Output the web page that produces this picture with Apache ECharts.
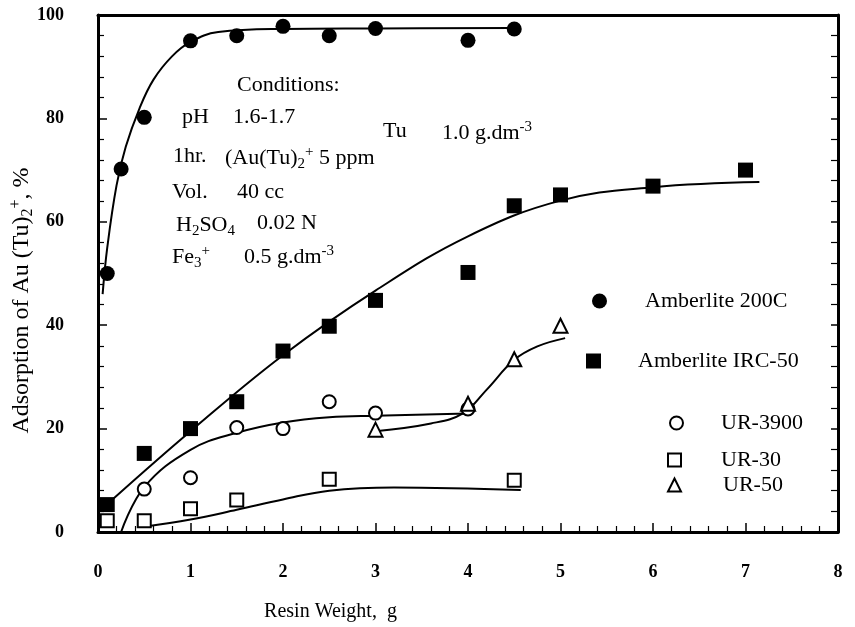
<!DOCTYPE html>
<html>
<head>
<meta charset="utf-8">
<script src="https://cdn.jsdelivr.net/npm/echarts@6/dist/echarts.min.js"></script>
<style>
  html, body { margin: 0; padding: 0; background: #fff; }
  #chart { width: 855px; height: 627px; }
</style>
</head>
<body>
<div id="chart"></div>
<script>
// measured points [resin weight g, adsorption %]
const amberlite200C = [[0.1, 50], [0.25, 70.2], [0.5, 80.2], [1, 95], [1.5, 96], [2, 97.8], [2.5, 96], [3, 97.4], [4, 95.1], [4.5, 97.3]]
const amberliteIRC50 = [[0.1, 5.3], [0.5, 15.2], [1, 20], [1.5, 25.2], [2, 35], [2.5, 39.8], [3, 44.8], [4, 50.2], [4.5, 63.1], [5, 65.2], [6, 66.9], [7, 70]]
const ur3900 = [[0.5, 8.3], [1, 10.5], [1.5, 20.2], [2, 20], [2.5, 25.2], [3, 23], [4, 23.8]]
const ur30 = [[0.1, 2.2], [0.5, 2.2], [1, 4.5], [1.5, 6.2], [2.5, 10.2], [4.5, 10]]
const ur50 = [[3, 19.8], [4, 24.8], [4.5, 33.4], [5, 39.9]]

// hand-drawn fitted curves
const fit200C = [[0.05, 46], [0.1, 55], [0.2, 67], [0.3, 74.5], [0.45, 82], [0.6, 87.5], [0.8, 92], [1, 94.8], [1.3, 96.7], [2, 97.3], [3, 97.4], [4.5, 97.5]]
const fitIRC50 = [[0.15, 6.2], [1, 19.5], [2, 34.2], [3, 46.7], [4, 57.2], [5, 64.1], [6, 66.7], [7.15, 67.7]]
const fitUR3900 = [[0.25, 0], [0.5, 8.7], [1, 15.9], [1.5, 19.2], [2, 21.2], [2.5, 22.2], [3, 22.5], [4, 22.9]]
const fitUR30 = [[0.5, 1], [1, 2.4], [1.5, 4.3], [2, 6.3], [2.5, 8], [3.2, 8.6], [4.57, 8.1]]
const fitUR50 = [[3, 19.5], [3.6, 21], [3.95, 23], [4.2, 27.5], [4.5, 33.3], [4.75, 35.9], [5.05, 37.5]]

const xTicks = { min: 0, max: 8, interval: 1 }
const yTicks = { min: 0, max: 100, interval: 20 }

const serif = 'Liberation Serif'
const chart = echarts.init(document.getElementById('chart'))

function fitLine(data) {
  return {
    type: 'line', data, smooth: 0.4, showSymbol: false, symbol: 'none',
    lineStyle: { color: '#000', width: 2 }, silent: true, z: 2
  }
}

function marks(name, data, symbol, size, filled) {
  return {
    name, type: 'scatter', data, symbol, symbolSize: size, z: 3,
    itemStyle: filled
      ? { color: '#000', opacity: 1 }
      : { color: '#fff', borderColor: '#000', borderWidth: 2, opacity: 1 }
  }
}

function legendAt(name, left, top, size, gap) {
  return {
    data: [name], left, top, orient: 'vertical', padding: 0,
    itemWidth: size, itemHeight: size,
    textStyle: { fontFamily: serif, fontSize: 22, color: '#000', padding: [0, 0, 0, gap] },
    selectedMode: false
  }
}

function txt(left, y, rich, text) {
  return {
    type: 'text', left, top: y - 14,
    style: { text, fill: '#000', font: '22px ' + serif, rich }
  }
}

const rich = {
  n: { fontFamily: serif, fontSize: 22, color: '#000', lineHeight: 28 },
  sub: { fontFamily: serif, fontSize: 15, color: '#000', lineHeight: 28, padding: [12, 0, 0, 0] },
  sup: { fontFamily: serif, fontSize: 15, color: '#000', lineHeight: 28, padding: [0, 0, 12, 0] }
}

const nameRich = {
  n: { fontFamily: serif, fontSize: 24, color: '#000', lineHeight: 28 },
  sub: { fontFamily: serif, fontSize: 16, color: '#000', lineHeight: 28, padding: [12, 0, 0, 0] },
  sup: { fontFamily: serif, fontSize: 16, color: '#000', lineHeight: 28, padding: [0, 0, 12, 0] }
}

const axisLabelStyle = { fontFamily: serif, fontSize: 18, fontWeight: 'bold', color: '#000' }
const frameLine = { show: true, onZero: false, lineStyle: { color: '#000', width: 3 } }

chart.setOption({
  backgroundColor: '#fff',
  animation: false,
  grid: { left: 98, right: 17, top: 15, bottom: 95, outerBoundsMode: 'none', containLabel: false },
  xAxis: [
    {
      type: 'value', ...xTicks, position: 'bottom',
      axisLine: frameLine,
      axisTick: { inside: true, length: 9, lineStyle: { color: '#000', width: 1.5 } },
      minorTick: { show: true, splitNumber: 5, length: 6, lineStyle: { color: '#000', width: 1.2 } },
      axisLabel: { ...axisLabelStyle, margin: 31 },
      splitLine: { show: false },
      name: 'Resin Weight,  g', nameLocation: 'middle', nameGap: 70,
      nameTextStyle: { fontFamily: serif, fontSize: 20, color: '#000', padding: [0, 275, 0, 0] }
    },
    {
      type: 'value', ...xTicks, position: 'top',
      axisLine: frameLine, axisTick: { show: false }, axisLabel: { show: false }, splitLine: { show: false }
    }
  ],
  yAxis: [
    {
      type: 'value', ...yTicks, position: 'left',
      axisLine: frameLine,
      axisTick: { inside: true, length: 9, lineStyle: { color: '#000', width: 1.5 } },
      minorTick: { show: true, splitNumber: 5, length: 6, lineStyle: { color: '#000', width: 1.2 } },
      axisLabel: { ...axisLabelStyle, margin: 34 },
      splitLine: { show: false },
      name: '{n|Adsorption of Au (Tu)}{sub|2}{sup|+}{n|, %}', nameLocation: 'middle', nameGap: 62,
      nameMoveOverlap: false,
      nameTextStyle: { rich: nameRich, padding: [0, 54, 0, 0] }
    },
    {
      type: 'value', ...yTicks, position: 'right',
      axisLine: frameLine,
      axisTick: { inside: true, length: 7, lineStyle: { color: '#000', width: 1.5 } },
      minorTick: { show: true, splitNumber: 5, length: 7, lineStyle: { color: '#000', width: 1.2 } },
      axisLabel: { show: false }, splitLine: { show: false }
    }
  ],
  legend: [
    legendAt('Amberlite 200C', 592, 290, 15, 33),
    legendAt('Amberlite IRC-50', 586, 350, 15, 32),
    legendAt('UR-3900', 669, 412, 13, 33),
    legendAt('UR-30', 667, 449, 13, 35),
    legendAt('UR-50', 667, 474, 13, 37)
  ],
  graphic: [
    txt(237, 88, rich, '{n|Conditions:}'),
    txt(182, 120, rich, '{n|pH}'),
    txt(233, 120, rich, '{n|1.6-1.7}'),
    txt(383, 134, rich, '{n|Tu}'),
    txt(442, 134, rich, '{n|1.0 g.dm}{sup|-3}'),
    txt(173, 159, rich, '{n|1hr.}'),
    txt(225, 159, rich, '{n|(Au(Tu)}{sub|2}{sup|+}{n| 5 ppm}'),
    txt(172, 195, rich, '{n|Vol.}'),
    txt(237, 195, rich, '{n|40 cc}'),
    txt(176, 226, rich, '{n|H}{sub|2}{n|SO}{sub|4}'),
    txt(257, 226, rich, '{n|0.02 N}'),
    txt(172, 258, rich, '{n|Fe}{sub|3}{sup|+}'),
    txt(244, 258, rich, '{n|0.5 g.dm}{sup|-3}')
  ],
  series: [
    fitLine(fit200C),
    fitLine(fitIRC50),
    fitLine(fitUR3900),
    fitLine(fitUR30),
    fitLine(fitUR50),
    marks('Amberlite 200C', amberlite200C, 'circle', 15, true),
    marks('Amberlite IRC-50', amberliteIRC50, 'rect', 15, true),
    marks('UR-3900', ur3900, 'circle', 13, false),
    marks('UR-30', ur30, 'rect', 13, false),
    marks('UR-50', ur50, 'triangle', 14, false)
  ]
})
</script>
</body>
</html>
